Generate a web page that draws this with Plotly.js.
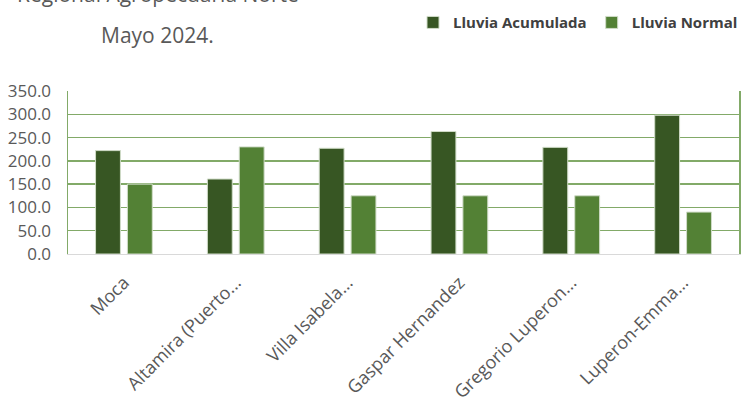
<!DOCTYPE html>
<html>
<head>
<meta charset="utf-8">
<script src="https://cdn.plot.ly/plotly-3.0.1.min.js"></script>
<style>html,body{margin:0;padding:0;background:#fff;}#chart{width:743px;height:412px;}</style>
</head>
<body>
<div id="chart"></div>
<script>
var categories = ["Moca", "Altamira (Puerto...", "Villa Isabela...", "Gaspar Hernandez", "Gregorio Luperon...", "Luperon-Emma..."];
var lluviaAcumulada = [222, 161, 227, 263, 229, 298];
var lluviaNormal = [150, 230, 125, 125, 125, 90];
var yTickVals = [0, 50, 100, 150, 200, 250, 300, 350];
var yTickText = ["0.0", "50.0", "100.0", "150.0", "200.0", "250.0", "300.0", "350.0"];

var traces = [
  {type: "bar", name: "Lluvia Acumulada", x: categories, y: lluviaAcumulada,
   marker: {color: "#375623", line: {color: "#D0DCC8", width: 1}}},
  {type: "bar", name: "Lluvia Normal", x: categories, y: lluviaNormal,
   marker: {color: "#538135", line: {color: "#D0DCC8", width: 1}}}
];

var font = "Open Sans, sans-serif";
var layout = {
  width: 743, height: 412,
  paper_bgcolor: "#ffffff", plot_bgcolor: "#ffffff",
  margin: {l: 68, r: 4, t: 91, b: 158},
  barmode: "group", bargap: 0.43, bargroupgap: 0.22,
  showlegend: true,
  legend: {orientation: "h", x: 1.0, xanchor: "right", y: 0.985, yanchor: "top",
           xref: "container", yref: "container",
           font: {family: font, size: 15, color: "#404040", weight: "bold"},
           itemwidth: 30, tracegroupgap: 0, bgcolor: "rgba(0,0,0,0)"},
  xaxis: {type: "category", tickangle: -45, showline: true, linecolor: "#D9D9D9", linewidth: 1,
          ticks: "", showgrid: false, automargin: false, ticklabelstandoff: 10,
          tickfont: {family: font, size: 18, color: "#595959"}},
  yaxis: {range: [0, 350], tickvals: yTickVals, ticktext: yTickText, showgrid: true,
          gridcolor: "#82AA68", gridwidth: 1.5, zeroline: false,
          showline: true, linecolor: "#82AA68", linewidth: 1.5, mirror: true,
          ticks: "", automargin: false, ticklabelstandoff: 12,
          tickfont: {family: font, size: 17, color: "#595959"}},
  annotations: [
    {text: "Regional Agropecuaria Norte", xref: "paper", yref: "paper", x: 0, y: 1,
     showarrow: false, xanchor: "center", yanchor: "top",
     font: {family: font, size: 21, color: "#595959"}},
    {text: "Mayo 2024.", xref: "paper", yref: "paper", x: 0, y: 1,
     showarrow: false, xanchor: "center", yanchor: "top",
     font: {family: font, size: 21, color: "#595959"}}
  ]
};

// position title lines in pixel terms relative to the page
var plotH = 412 - 91 - 158;
function pyToPaper(py) { return (412 - 158 - py) / plotH; }
function pxToPaper(px) { return (px - 68) / (743 - 68 - 4); }
layout.annotations[0].x = pxToPaper(158);
layout.annotations[0].y = pyToPaper(-22);
layout.annotations[1].x = pxToPaper(157);
layout.annotations[1].y = pyToPaper(19);

Plotly.newPlot("chart", traces, layout, {displayModeBar: false, staticPlot: true});
</script>
</body>
</html>
